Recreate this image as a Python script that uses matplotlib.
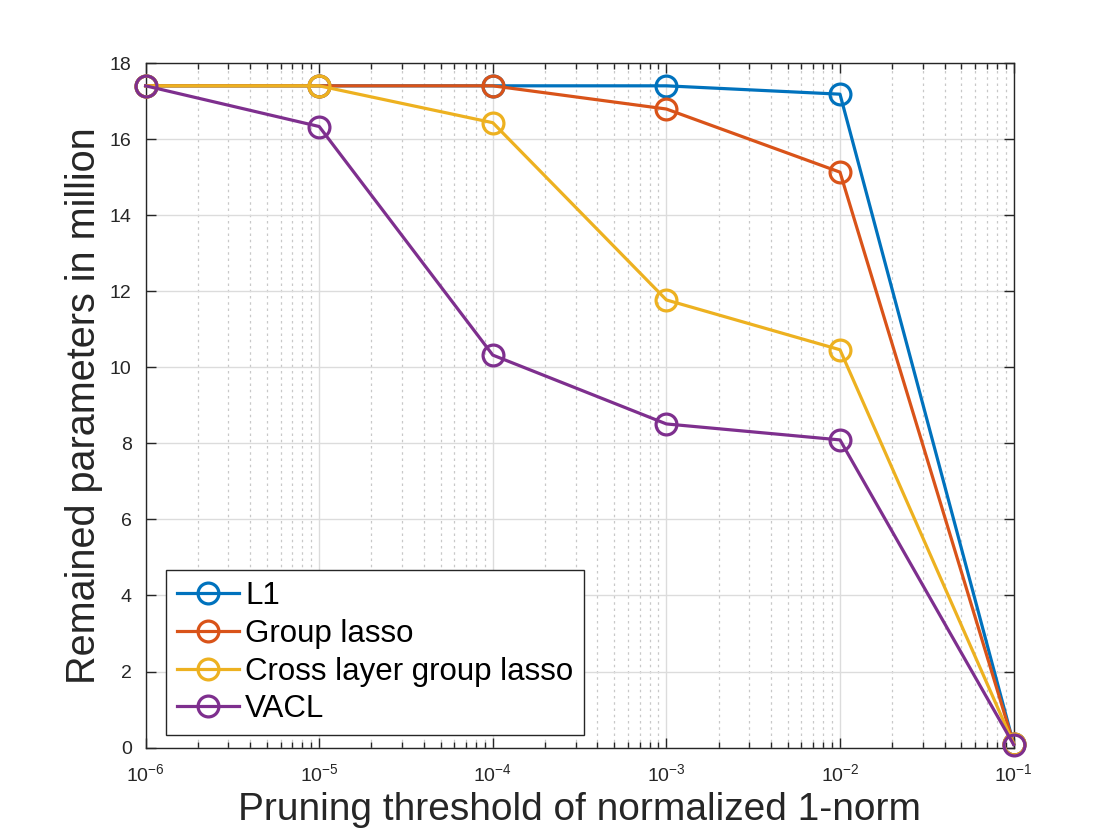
import numpy as np
import matplotlib
import matplotlib.pyplot as plt
from matplotlib.ticker import LogLocator, NullFormatter

matplotlib.use('Agg')

# data
thresholds = [1e-6, 1e-5, 1e-4, 1e-3, 1e-2, 1e-1]
l1 = [17.4, 17.4, 17.4, 17.4, 17.18, 0.1]
group_lasso = [17.4, 17.4, 17.4, 16.79, 15.13, 0.1]
cross_layer = [17.4, 17.4, 16.43, 11.77, 10.46, 0.1]
vacl = [17.4, 16.33, 10.32, 8.51, 8.09, 0.08]

series_names = ['L1', 'Group lasso', 'Cross layer group lasso', 'VACL']
series_colors = ['#0072BD', '#D95319', '#EDB120', '#7E2F8E']

plt.rcParams['font.family'] = ['Liberation Sans', 'DejaVu Sans']
plt.rcParams['mathtext.fontset'] = 'custom'
plt.rcParams['mathtext.rm'] = 'Liberation Sans'

fig = plt.figure(figsize=(11.2, 8.4), dpi=100)
ax = fig.add_axes([0.13, 0.11, 0.775, 0.815])

for vals, name, col in zip([l1, group_lasso, cross_layer, vacl], series_names, series_colors):
    ax.plot(thresholds, vals, '-o', color=col, lw=2.3, markersize=15,
            markerfacecolor='none', markeredgewidth=2.3, label=name, zorder=3,
            clip_on=False)

ax.set_xscale('log')
ax.set_xlim(1e-6, 1e-1)
ax.set_ylim(0, 18)
ax.set_yticks(np.arange(0, 19, 2))
ax.xaxis.set_minor_locator(LogLocator(base=10, subs=np.arange(2, 10)))
ax.xaxis.set_minor_formatter(NullFormatter())

ax.grid(True, which='major', color='#dcdcdc', lw=1.0, zorder=0)
ax.grid(True, which='minor', axis='x', color='#c8c8c8', lw=0.9, ls=(0, (2, 3)), zorder=0)

dark = '#262626'
for s in ax.spines.values():
    s.set_color(dark)
    s.set_linewidth(1.0)
ax.tick_params(which='both', direction='in', top=True, right=True, colors=dark,
               labelsize=14, width=1.0)
ax.tick_params(which='major', length=7)
ax.tick_params(axis='y', which='major', pad=10)
ax.tick_params(axis='x', which='major', pad=11)
ax.tick_params(which='minor', length=4)

ax.set_xlabel('Pruning threshold of normalized 1-norm', fontsize=28, color=dark, labelpad=5)
ax.set_ylabel('Remained parameters in million', fontsize=28.5, color=dark, labelpad=5)

leg = ax.legend(loc='lower left', bbox_to_anchor=(0.023, 0.018), fontsize=22.5,
                fancybox=False, edgecolor=dark, framealpha=1,
                handlelength=2.0, handletextpad=0.2, borderpad=0.35, labelspacing=0.25,
                borderaxespad=0)
leg.get_frame().set_linewidth(1.0)

fig.savefig('out.png', dpi=100)
